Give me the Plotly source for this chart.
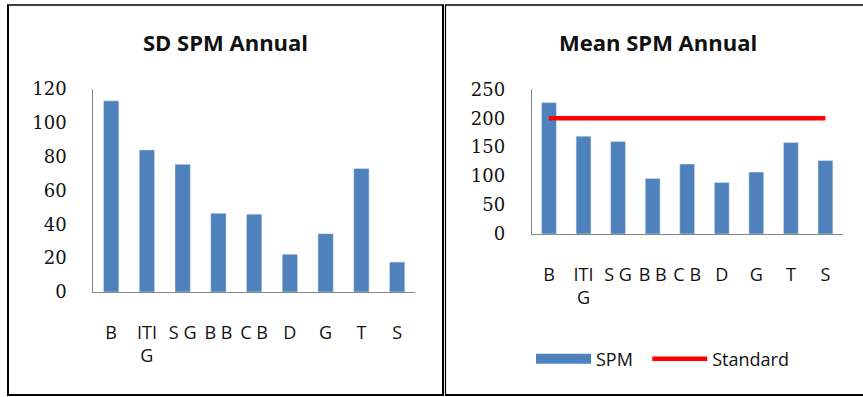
import plotly.graph_objects as go

categories = ["B", "ITI<br>G", "S G", "B B", "C B", "D", "G", "T", "S"]
sd_spm = [113, 84, 75.5, 46.5, 46, 22.3, 34.5, 73, 17.7]
mean_spm = [227, 169, 160, 96, 121, 89, 107, 158, 127]
standard = [200] * len(categories)

W, H = 863, 397
BLUE = "#4F81BD"

def px(x):
    return x / W

def py(y):
    return 1 - y / H

fig = go.Figure()
fig.add_trace(go.Bar(x=categories, y=sd_spm, marker_color=BLUE, xaxis="x", yaxis="y",
                     showlegend=False, name="SD SPM"))
fig.add_trace(go.Bar(x=categories, y=mean_spm, marker_color=BLUE, xaxis="x2", yaxis="y2",
                     showlegend=False, name="SPM"))
# legend proxy for SPM (wide rectangle look)
fig.add_trace(go.Scatter(x=[None], y=[None], mode="lines", name="SPM\u00a0\u00a0",
                         line=dict(color=BLUE, width=11), xaxis="x2", yaxis="y2"))
fig.add_trace(go.Scatter(x=categories, y=standard, mode="lines", name="Standard",
                         line=dict(color="#FF0000", width=4.5), xaxis="x2", yaxis="y2"))

SANS = "Open Sans"
tickfont_y = dict(family="DejaVu Serif", size=18, color="#111")
tickfont_x = dict(family=SANS, size=18, color="#111")
axis_line = dict(showline=True, linecolor="#868686", linewidth=1, showgrid=False,
                 zeroline=False, ticks="", automargin=False)

fig.update_layout(
    width=W, height=H,
    margin=dict(l=0, r=0, t=0, b=0, autoexpand=False),
    paper_bgcolor="white", plot_bgcolor="white",
    bargap=0.57,
    xaxis=dict(domain=[px(93.3), px(415)], anchor="y", tickfont=tickfont_x,
               ticklabelstandoff=24, **axis_line),
    yaxis=dict(domain=[py(292), py(89)], anchor="x", range=[0, 120], dtick=20,
               tickfont=tickfont_y, ticklabelstandoff=22, **axis_line),
    xaxis2=dict(domain=[px(531.7), px(842.7)], anchor="y2", tickfont=tickfont_x,
                ticklabelstandoff=24, **axis_line),
    yaxis2=dict(domain=[py(234), py(89.3)], anchor="x2", range=[0, 250], dtick=50,
                tickfont=tickfont_y, ticklabelstandoff=22, **axis_line),
    showlegend=True,
    legend=dict(orientation="h", x=px(531), y=py(359), xanchor="left", yanchor="middle",
                font=dict(family=SANS, size=18, color="#111"), itemwidth=55,
                bgcolor="rgba(0,0,0,0)", traceorder="normal"),
    annotations=[
        dict(text="<b>SD SPM Annual</b>", x=px(225), y=py(42), xref="paper", yref="paper",
             xanchor="center", yanchor="middle",
             showarrow=False, font=dict(family=SANS, size=22, color="#111")),
        dict(text="<b>Mean SPM Annual</b>", x=px(658), y=py(42), xref="paper", yref="paper",
             xanchor="center", yanchor="middle",
             showarrow=False, font=dict(family=SANS, size=22, color="#111")),
    ],
    shapes=[
        # left panel frame
        dict(type="line", xref="paper", yref="paper", x0=px(8), x1=px(8), y0=py(5), y1=py(395),
             line=dict(color="black", width=2)),
        dict(type="line", xref="paper", yref="paper", x0=px(7), x1=px(444), y0=py(5), y1=py(5),
             line=dict(color="black", width=1.5)),
        dict(type="line", xref="paper", yref="paper", x0=px(7), x1=px(444), y0=py(395), y1=py(395),
             line=dict(color="black", width=2)),
        dict(type="line", xref="paper", yref="paper", x0=px(443), x1=px(443), y0=py(5), y1=py(396),
             line=dict(color="black", width=2)),
        # right panel frame
        dict(type="line", xref="paper", yref="paper", x0=px(445.5), x1=px(445.5), y0=py(5), y1=py(396),
             line=dict(color="black", width=1.2)),
        dict(type="line", xref="paper", yref="paper", x0=px(445), x1=px(863), y0=py(5), y1=py(5),
             line=dict(color="black", width=1.5)),
        dict(type="line", xref="paper", yref="paper", x0=px(445), x1=px(863), y0=py(395), y1=py(395),
             line=dict(color="black", width=2)),
    ],
)

fig.write_html("out.html", config={"displayModeBar": False},
               post_script="document.body.style.margin='0';document.body.style.overflow='hidden';")
